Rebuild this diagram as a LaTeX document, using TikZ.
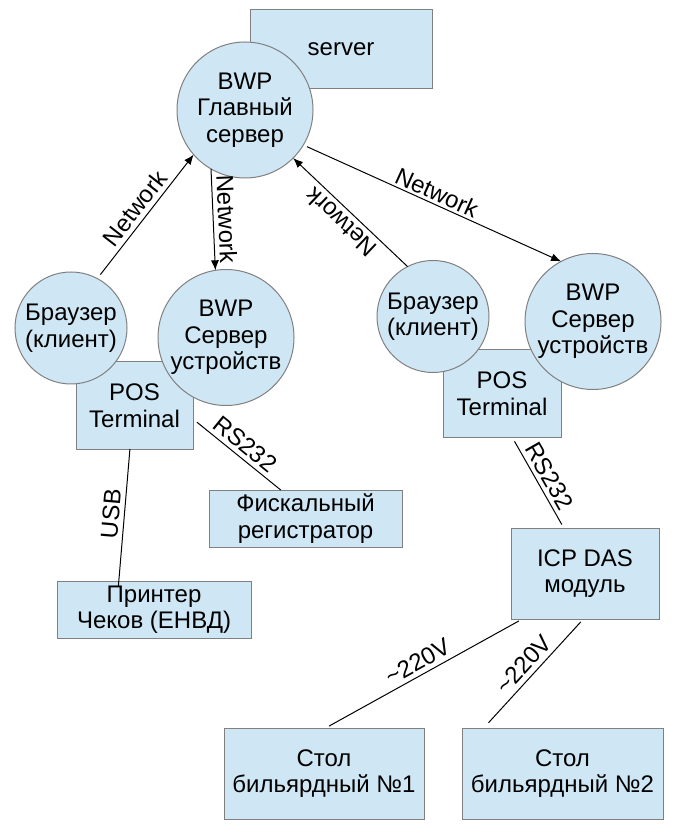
\documentclass[tikz,border=0pt]{standalone}
\usepackage{fontspec}
\setmainfont{Liberation Sans}
\usetikzlibrary{arrows.meta, positioning}
\definecolor{boxfill}{HTML}{CFE7F5}
\definecolor{boxedge}{HTML}{808080}
\tikzset{
  unit/.style={draw=boxedge, fill=boxfill, line width=0.5pt, align=center,
    font=\fontsize{12}{13.25}\selectfont, inner sep=0pt, outer sep=0pt},
  devbox/.style={unit, rectangle},
  devround/.style={unit, circle},
  wire/.style={line width=0.5pt},
  netlink/.style={wire, -{Latex[length=5pt, width=4pt]}},
  wirelabel/.style={midway, sloped, above, inner sep=2.2pt,
    font=\fontsize{12}{13.25}\selectfont},
}
\begin{document}
\begin{tikzpicture}[x=0.5pt, y=-0.5pt]
      \useasboundingbox (0,0) rectangle (690,838);

      % boxes
      \node[devbox, minimum width=91pt, minimum height=39.5pt] (server) at (341,49.5) {server};
      \node[devbox, minimum width=58.5pt, minimum height=43.5pt] (lpos) at (134.5,405.5) {POS\\Terminal};
      \node[devbox, minimum width=59pt, minimum height=43.5pt] (rpos) at (502,393.5) {POS\\Terminal};
      \node[devbox, minimum width=96.5pt, minimum height=28.5pt] (fisk) at (305.5,518.5) {Фискальный\\регистратор};
      \node[devbox, minimum width=97pt, minimum height=28.5pt] (printer) at (154,609.5) {Принтер\\Чеков (ЕНВД)};
      \node[devbox, minimum width=74pt, minimum height=45.5pt] (icp) at (585,573.5) {ICP DAS\\модуль};
      \node[devbox, minimum width=100pt, minimum height=45.5pt] (stol1) at (324,773.5) {Стол\\бильярдный №1};
      \node[devbox, minimum width=100.5pt, minimum height=45.5pt] (stol2) at (562.5,773.5) {Стол\\бильярдный №2};

      % circles
      \node[devround, minimum size=68pt] (main) at (245,110) {BWP\\Главный\\сервер};
      \node[devround, minimum size=56pt] (lbrowser) at (71,328) {Браузер\\(клиент)};
      \node[devround, minimum size=68pt] (lbwp) at (226,337.5) {BWP\\Сервер\\устройств};
      \node[devround, minimum size=56pt] (rbrowser) at (433,316.5) {Браузер\\(клиент)};
      \node[devround, minimum size=68pt] (rbwp) at (593,321.5) {BWP\\Сервер\\устройств};

      % network
      \draw[netlink, shorten <=2.5pt] (lbrowser.62) -- (main.-139) node[wirelabel] {Network};
      \draw[netlink] (main.-120) -- (lbwp.99) node[wirelabel] {Network};
      \draw[netlink] (rbrowser.117) -- (main.-45) node[wirelabel, allow upside down] {Network};
      \draw[netlink, shorten <=2pt] (main.-31) -- (rbwp.118) node[wirelabel, inner sep=1.2pt] {Network};

      % cables
      \draw[wire, shorten <=2.5pt] (lpos.-13) -- (fisk.131) node[wirelabel] {RS232};
      \draw[wire, shorten <=-3pt] (printer.141) -- (lpos.264) node[wirelabel] {USB};
      \draw[wire, shorten <=2.5pt, shorten >=2pt] (rpos.-77) -- (icp.115) node[wirelabel] {RS232};
      \draw[wire, shorten <=2pt, shorten >=2pt] (icp.-144) -- (stol1.88) node[wirelabel] {\textasciitilde220V};
      \draw[wire, shorten <=2pt, shorten >=3.5pt] (icp.-92) -- (stol2.150) node[wirelabel] {\textasciitilde220V};
    \end{tikzpicture}
\end{document}
